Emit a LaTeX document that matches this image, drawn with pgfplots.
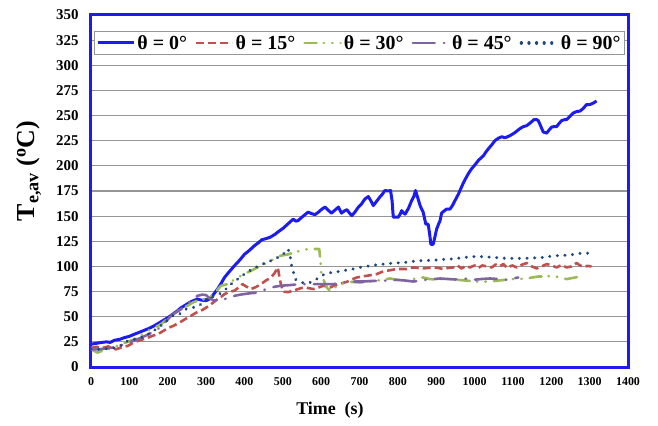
\documentclass[border=0pt]{standalone}
\usepackage{fontspec}
\setmainfont{Liberation Serif}
\usepackage{pgfplots}
\pgfplotsset{compat=1.18}

\definecolor{c0}{RGB}{28,28,240}
\definecolor{c15}{RGB}{192,80,77}
\definecolor{c30}{RGB}{155,187,89}
\definecolor{c45}{RGB}{128,100,162}
\definecolor{c90}{RGB}{31,73,125}
\definecolor{gridc}{RGB}{150,150,150}

\begin{document}
\begin{tikzpicture}
\begin{axis}[
  name=ax,
  scale only axis,
  width=537bp, height=352bp,
  xmin=0, xmax=1400, ymin=0, ymax=350,
  xtick={0,100,...,1400},
  ytick={0,25,...,350},
  major tick length=0pt,
  ymajorgrids,
  grid style={gridc, line width=1.2bp},
  axis line style={c0, line width=3bp},
  /pgf/number format/assume math mode=true,
  /pgf/number format/1000 sep={},
  xticklabel style={font=\bfseries\fontsize{12}{12}\selectfont, anchor=north, yshift=-7bp},
  yticklabel style={font=\bfseries\fontsize{15}{15}\selectfont, anchor=east, xshift=-9bp},
  xlabel={Time\ \ (s)},
  ylabel={T\textsubscript{e,av} (\textsuperscript{o}C)},
  xlabel style={font=\bfseries\fontsize{18}{18}\selectfont, at={(rel axis cs:0.445,0)}, anchor=center, yshift=-43bp},
  ylabel style={font=\bfseries\fontsize{26}{26}\selectfont, at={(rel axis cs:0,0.557)}, anchor=center, rotate=0, yshift=62bp},
  legend columns=5,
  legend style={at={(rel axis cs:0.5,0.955)}, anchor=north, draw=gridc, line width=0.8bp, fill=white,
    font=\bfseries\fontsize{20}{20}\selectfont, inner xsep=2bp, inner ysep=2bp,
    /tikz/every even column/.append style={column sep=6bp}},
  legend image code/.code={\draw[#1] (0bp,0bp) -- (36bp,0bp);},
  every axis plot/.append style={line join=round},
]
% theta = 0 deg
\addplot[c0, line width=3bp] coordinates {
(0,22.6) (13,23.5) (26,24.3) (40,25) (50,24.5) (61,26.6) (75,27.5) (87,29.2)
(100,30.5) (113,32.6) (126,34.5) (139,36.5) (152,38.5) (165,41) (176,43.5)
(187,46) (200,49) (213,52.5) (224,55.5) (235,59) (246,61.5) (256,64) (267,66)
(278,67.5) (288,66.5) (300,66) (306,67) (313,69) (321,73) (330,77.5) (339,83)
(348,89) (361,95) (374,100.7) (387,106) (400,112) (413,116) (426,120.6)
(438,124) (445,126.5) (455,127.5) (467,129) (480,132) (490,135) (501,138)
(514,142.5) (527,147) (534,145) (540,145.6) (553,150) (566,154) (575,152.5)
(584,151.5) (593,154) (602,157) (610,159) (618,156) (627,153) (636,156)
(645,159) (653,153) (660,155) (667,156.5) (674,153) (680,150.5) (688,154)
(697,159) (705,162) (714,167) (723,169.5) (730,165) (736,160.5) (745,165)
(753,169) (760,172) (766,175.5) (775,175) (781,175.5) (785,165) (788,149)
(795,149) (801,149) (806,152) (810,155.5) (815,153) (819,152) (828,158)
(836,165.5) (842,170) (846,175.5) (852,168) (858,160.5) (862,157) (866,154)
(870,147) (873,142) (879,142) (883,132) (886,122) (892,122) (897,130)
(901,137) (906,142) (910,145.5) (914,153) (920,155) (927,157) (936,157)
(943,161) (949,165.5) (958,172) (966,179) (972,184) (979,189) (985,193)
(992,197) (1001,201) (1010,205.4) (1017,208) (1023,210) (1030,214) (1036,217)
(1045,221) (1053,225) (1062,227.5) (1071,229) (1078,228) (1084,228.6)
(1092,230) (1101,232) (1110,234.5) (1118,237) (1127,239) (1136,240)
(1146,243) (1155,246) (1162,246) (1166,245) (1172,240) (1179,233.6)
(1188,232.6) (1195,236) (1201,238.6) (1207,239) (1214,239) (1220,242)
(1227,245) (1235,246) (1240,246) (1248,249) (1257,252.5) (1266,254)
(1275,254.5) (1283,257) (1292,261) (1301,261) (1310,262.5) (1318,264.5)
};
\addlegendentry{θ = 0°}
% theta = 15 deg
\addplot[c15, line width=2.6bp, dash pattern=on 8bp off 4bp] coordinates {
(0,19) (15,20) (30,19) (45,20.5) (55,18.5) (65,17.6) (80,19.5) (96,21)
(110,24) (122,26) (135,27.5) (148,29) (160,31) (174,32.6) (187,35.5)
(200,38.5) (215,41) (230,44) (245,47.5) (261,51) (274,54) (287,56)
(298,58.5) (308,61) (320,64.5) (330,67.5) (340,70) (348,72.5) (360,74.5)
(374,76) (385,79) (395,82.4) (405,80) (417,77.5) (430,79.5) (443,82.4)
(456,86) (469,89) (478,93) (487,99) (491,90) (495,82.4) (501,74.8)
(514,74.5) (527,75.8) (540,77.5) (553,79) (566,78.5) (580,77.5) (593,79)
(606,80.8) (615,80) (623,79) (634,81) (645,82.4) (656,83.5) (667,84.7)
(680,87) (693,89) (706,90) (719,90.7) (732,91.5) (745,92.4) (758,94.5)
(771,95.7) (784,96.5) (797,97.4) (810,97.5) (823,97.4) (832,98.5) (840,99)
(853,98.5) (866,98) (879,98.5) (892,99) (905,98.5) (918,97.4) (931,98.5)
(944,99) (955,101) (966,98) (977,100.5) (988,99) (1000,101) (1010,98.5)
(1020,101) (1032,100) (1045,99) (1055,102) (1065,100) (1075,102.4)
(1085,98.5) (1098,101) (1110,99) (1122,101.5) (1136,103.4) (1149,100)
(1162,98) (1175,100) (1188,102.4) (1200,101) (1214,99) (1227,101.5)
(1240,99) (1253,100) (1266,103.4) (1275,101) (1283,99.7) (1295,100.5)
(1305,100)
};
\addlegendentry{θ = 15°}
% theta = 30 deg
\addplot[c30, line width=2.6bp, line cap=round,
  dash pattern=on 12bp off 7bp on 0.5bp off 8bp on 0.5bp off 8bp] coordinates {
(0,17.6) (17,14.3) (35,17) (52,18.6) (65,20.5) (78,22.6) (95,25) (113,27.6)
(130,31.5) (148,36) (165,39) (182,42.5) (200,48) (217,54) (235,58) (252,61)
(265,64) (278,66) (290,67) (300,67.5) (310,70) (321,72.5) (330,77)
(339,80.8) (356,82.4) (370,86) (385,89.5) (400,92.4) (417,95.7) (434,99)
(452,102.5) (469,105.7) (484,109) (495,110.7) (514,112) (530,114) (549,116)
(566,117.3) (580,117.3) (595,117.3) (598,106) (600,94) (608,85) (615,79)
(623,75.8) (636,79) (650,82) (667,84.7) (684,84.5) (701,84) (719,84.7)
(732,85) (745,85.7) (762,87) (780,88) (797,86.7) (810,86) (823,85.7)
(840,87.5) (855,88.5) (866,89) (884,87.4) (900,87) (918,87.5) (936,87.4)
(945,87.4) (960,86.5) (975,86) (990,85.5) (1005,85) (1018,84.7) (1035,85)
(1057,85.7) (1075,86.5) (1092,87.4) (1115,87.5) (1136,88) (1150,89)
(1166,90) (1185,90) (1205,90.7) (1222,89) (1240,87.4) (1262,89) (1283,90.7)
};
\addlegendentry{θ = 30°}
% theta = 45 deg
\addplot[c45, line width=2.6bp, line cap=round,
  dash pattern=on 22bp off 9bp on 0.5bp off 9bp] coordinates {
(0,17.6) (20,17.6) (40,18.5) (60,19.5) (87,22.6) (110,26) (130,29)
(150,32.5) (174,37.5) (192,44) (209,51) (222,54.5) (235,57.5) (248,62)
(261,66) (270,68.5) (278,70.8) (290,72) (300,71.5) (310,68) (321,66)
(335,67) (348,67.5) (361,69) (374,70.8) (390,72) (408,73) (420,73.5)
(434,74) (450,76.5) (469,79) (482,80) (495,80.8) (520,81.5) (545,82.4)
(570,82.4) (597,82.4) (615,82.4) (632,82.4) (650,83.5) (667,84.7) (690,85)
(710,85) (730,85.5) (753,85.7) (775,86) (797,86.7) (818,86) (840,85)
(862,86) (884,87.4) (897,87.5) (910,88) (930,87.5) (950,87) (971,88)
(985,87.5) (997,86.7) (1018,87.5) (1040,88) (1060,87.5) (1084,86.7)
(1100,88) (1114,89)
};
\addlegendentry{θ = 45°}
% theta = 90 deg
\addplot[c90, line width=3.2bp, line cap=round, dash pattern=on 0.1bp off 7.5bp] coordinates {
(0,17.6) (20,17.6) (45,18.5) (70,19.5) (96,26) (113,27.5) (130,29)
(143,31.5) (156,34) (169,37.5) (182,41) (198,46) (213,51) (230,52.5)
(248,57.5) (265,59) (282,61) (291,64) (300,67.5) (317,70) (334,72.5)
(348,76) (356,79) (365,82.4) (378,86) (391,90) (404,93.5) (417,96.5)
(432,99.5) (448,102.4) (458,104) (469,105.7) (485,108.5) (500,111.7)
(507,114.5) (514,117.3) (519,110.7) (523,100.7) (528,94) (532,87.4)
(540,85.5) (549,84) (560,83.5) (571,84) (580,85.5) (588,87.4) (597,89.5)
(606,91.7) (617,93) (627,94) (647,95) (667,96.4) (684,97.5) (701,99)
(720,100.2) (740,101.4) (760,102.2) (779,103) (799,103.5) (819,104)
(838,105) (858,105.7) (880,106) (901,106.4) (920,107) (940,107.4)
(975,109) (1005,110) (1030,109.5) (1049,109) (1066,108.5) (1084,108)
(1105,108) (1127,108) (1155,108.5) (1179,109) (1197,110) (1214,110.7)
(1232,111) (1249,111.4) (1266,112.5) (1283,113.4) (1305,113)
};
\addlegendentry{θ = 90°}
\end{axis}
\pgfresetboundingbox
\path[use as bounding box] ([xshift=-91bp,yshift=-59bp]ax.south west) rectangle ([xshift=30bp,yshift=15bp]ax.north east);
\end{tikzpicture}
\end{document}
